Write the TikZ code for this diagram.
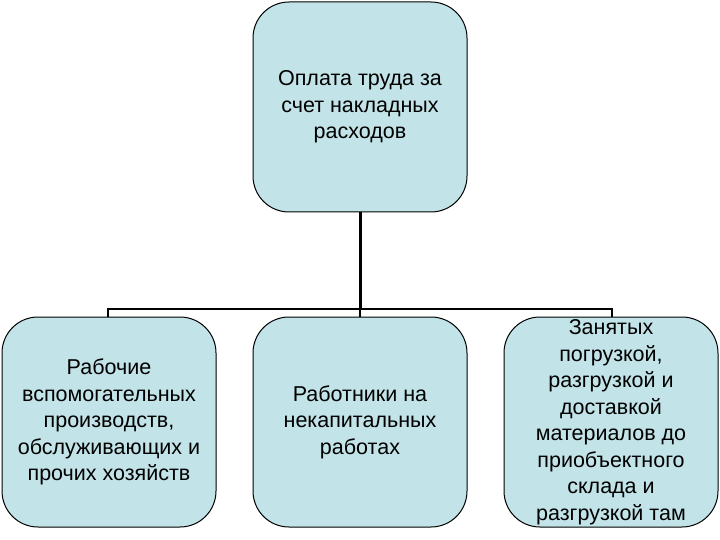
\documentclass[tikz,border=0pt]{standalone}
\usepackage{fontspec}
\setmainfont{Liberation Sans}
\begin{document}
\begin{tikzpicture}[x=1pt,y=-1pt,
  boxst/.style={draw=black,line width=1pt,fill=boxfill,rounded corners=36pt,minimum width=214pt,minimum height=210pt,align=center,font=\fontsize{21.5}{26.5}\selectfont,inner sep=0pt},
  conn/.style={line width=2pt}]
\definecolor{boxfill}{RGB}{194,227,231}
\useasboundingbox (0,0) rectangle (720,540);
\node[boxst] (top) at (360,107) {Оплата труда за\\счет накладных\\расходов};
\node[boxst] (l) at (109,422) {Рабочие\\вспомогательных\\производств,\\обслуживающих и\\прочих хозяйств};
\node[boxst] (m) at (360,422) {Работники на\\некапитальных\\работах};
\node[boxst] (r) at (611,422) {Занятых\\погрузкой,\\разгрузкой и\\доставкой\\материалов до\\приобъектного\\склада и\\разгрузкой там};
\coordinate (j) at (360,309);
\draw[line width=3pt] (top.south) -- (j);
\draw[conn] (l.north -| 108,0) |- (j) -| (r.north -| 612,0);
\draw[conn] (j) -- (m.north);
\end{tikzpicture}
\end{document}
